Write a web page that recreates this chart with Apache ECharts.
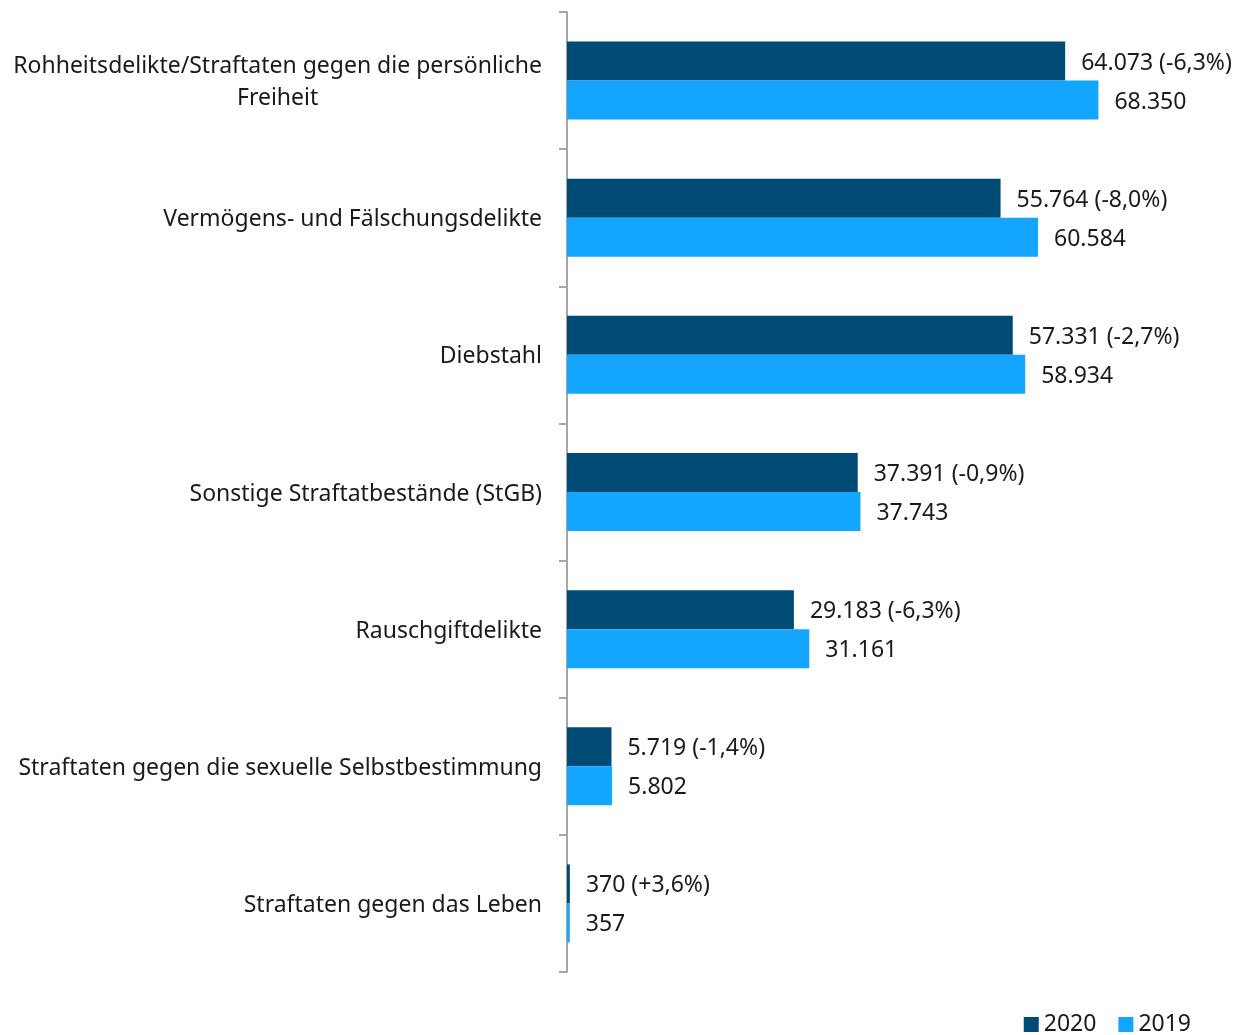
<!DOCTYPE html>
<html>
<head>
<meta charset="utf-8">
<script src="https://cdn.jsdelivr.net/npm/echarts@6/dist/echarts.min.js"></script>
<style>
html, body { margin: 0; padding: 0; background: #fff; }
#chart { width: 1245px; height: 1035px; }
</style>
</head>
<body>
<div id="chart"></div>
<script>
var categories = [
	'Rohheitsdelikte/Straftaten gegen die persönliche\nFreiheit',
	'Vermögens- und Fälschungsdelikte',
	'Diebstahl',
	'Sonstige Straftatbestände (StGB)',
	'Rauschgiftdelikte',
	'Straftaten gegen die sexuelle Selbstbestimmung',
	'Straftaten gegen das Leben'
];
var values2020 = [64073, 55764, 57331, 37391, 29183, 5719, 370];
var values2019 = [68350, 60584, 58934, 37743, 31161, 5802, 357];
var changes = ['-6,3%', '-8,0%', '-2,7%', '-0,9%', '-6,3%', '-1,4%', '+3,6%'];

var FONT = 'Noto Sans';
var FS = 23;

function fmt(v) {
	return String(v).replace(/\B(?=(\d{3})+(?!\d))/g, '.');
}

var Chart = echarts.init(document.getElementById('chart'));
var option = {
	animation : false,
	textStyle : { fontFamily : FONT },
	grid : {
		left : 567,
		right : 56,
		top : 12,
		bottom : 63
	},
	legend : {
		right : 49,
		top : 1008,
		itemWidth : 15,
		itemHeight : 15,
		itemGap : 22,
		icon : 'rect',
		textStyle : { fontSize : 23, color : '#1a1a1a', fontFamily : FONT },
		data : [ '2020', '2019' ]
	},
	xAxis : {
		type : 'value',
		min : 0,
		max : 80000,
		show : false
	},
	yAxis : {
		type : 'category',
		inverse : true,
		data : categories,
		axisLine : { show : true, lineStyle : { color : '#a6a6a6', width : 2 } },
		axisTick : { show : true, length : 8, lineStyle : { color : '#a6a6a6', width : 2 } },
		axisLabel : {
			margin : 25,
			fontSize : FS,
			color : '#1a1a1a',
			fontFamily : FONT,
			padding : [4, 0, 0, 0],
			formatter : function(v) {
				if (v.indexOf('\n') < 0) return v;
				return v.split('\n').map(function(l) { return '{c|' + l + '}'; }).join('\n');
			},
			rich : {
				c : { align : 'center', fontSize : FS, color : '#1a1a1a', fontFamily : FONT, lineHeight : 32 }
			}
		}
	},
	series : [ {
		name : '2020',
		type : 'bar',
		barWidth : 39,
		barGap : '0%',
		itemStyle : { color : '#004b76' },
		label : {
			show : true,
			position : 'right',
			distance : 16,
			offset : [0, 2],
			fontSize : FS,
			color : '#1a1a1a',
			fontFamily : FONT,
			formatter : function(p) {
				return fmt(p.value) + ' (' + changes[p.dataIndex] + ')';
			}
		},
		data : values2020
	}, {
		name : '2019',
		type : 'bar',
		barWidth : 39,
		barGap : '0%',
		itemStyle : { color : '#14a6ff' },
		label : {
			show : true,
			position : 'right',
			distance : 16,
			offset : [0, 2],
			fontSize : FS,
			color : '#1a1a1a',
			fontFamily : FONT,
			formatter : function(p) {
				return fmt(p.value);
			}
		},
		data : values2019
	} ]
};
Chart.setOption(option);
</script>
</body>
</html>
